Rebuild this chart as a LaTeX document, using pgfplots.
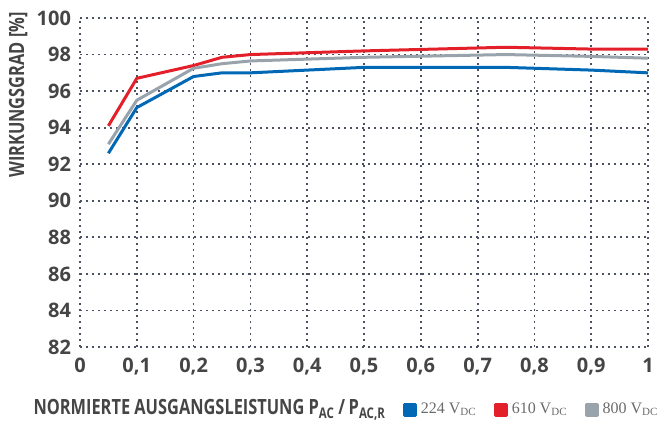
\documentclass[border=0pt]{standalone}
\usepackage{pgfplots}
\pgfplotsset{compat=1.18}
\usepackage{fontspec}
\setmainfont{Open Sans}
\newfontfamily\condfont[FakeStretch=0.78]{Open Sans}
\newfontfamily\seriffont{Liberation Serif}
\definecolor{cblue}{HTML}{0068B4}
\definecolor{cred}{HTML}{E3202A}
\definecolor{cgray}{HTML}{98A3AC}
\definecolor{ctext}{HTML}{454545}
\definecolor{cleg}{HTML}{6A6A6A}
\definecolor{cgrid}{rgb}{0.30,0.32,0.38}
\begin{document}
\begin{tikzpicture}
\begin{axis}[
  scale only axis,
  width=284pt, height=164.5pt,
  xmin=0, xmax=1, ymin=82, ymax=100,
  xtick={0,0.1,0.2,0.3,0.4,0.5,0.6,0.7,0.8,0.9,1},
  xticklabels={0,{0,1},{0,2},{0,3},{0,4},{0,5},{0,6},{0,7},{0,8},{0,9},1},
  ytick={82,84,86,88,90,92,94,96,98,100},
  /pgf/number format/assume math mode=true,
  ticklabel style={font=\fontsize{10}{12}\selectfont\bfseries, text=ctext},
  xticklabel style={yshift=-2pt},
  yticklabel style={xshift=-1pt},
  major tick length=0pt,
  axis line style={draw opacity=0},
  xmajorgrids=true, ymajorgrids=true,
  major grid style={draw=cgrid, line width=0.9pt, dash pattern=on 0.9pt off 2.1pt},
  ylabel={WIRKUNGSGRAD [\%]},
  ylabel style={at={(rel axis cs:-0.109,0.766)}, anchor=center, rotate=0, font=\condfont\fontsize{10.5}{12}\selectfont\bfseries, text=ctext},
  xlabel={NORMIERTE AUSGANGSLEISTUNG P\textsubscript{AC}\,/\,P\textsubscript{AC,R}},
  xlabel style={at={(rel axis cs:0.551,-0.191)}, anchor=east, font=\condfont\fontsize{10.5}{12}\selectfont\bfseries, text=ctext},
  legend columns=3,
  legend style={at={(rel axis cs:0.5687,-0.191)}, anchor=west, draw=none, fill=none, inner sep=0pt,
    font=\seriffont\fontsize{8}{10}\selectfont, text=cleg,
    nodes={inner xsep=1.75pt, inner ysep=1pt},
    /tikz/every even column/.append style={column sep=7pt}},
  legend image code/.code={\fill[#1] (0pt,-2.75pt) rectangle (5.5pt,2.75pt);},
  every axis plot/.append style={line width=1.5pt, line join=round},
  clip=false,
]
\addplot[cblue] coordinates {(0.05,92.6) (0.1,95.1) (0.2,96.8) (0.25,97.0) (0.3,97.0) (0.4,97.15) (0.5,97.3) (0.75,97.3) (0.9,97.15) (1.0,97.0)};
\addlegendentry{224 V\textsubscript{\fontsize{5.5}{6}\selectfont DC}}
\addplot[cred] coordinates {(0.05,94.1) (0.1,96.7) (0.2,97.4) (0.25,97.85) (0.3,98.0) (0.5,98.2) (0.75,98.4) (0.9,98.3) (1.0,98.3)};
\addlegendentry{610 V\textsubscript{\fontsize{5.5}{6}\selectfont DC}}
\addplot[cgray] coordinates {(0.05,93.1) (0.1,95.5) (0.2,97.25) (0.25,97.5) (0.3,97.65) (0.5,97.85) (0.75,98.0) (0.9,97.9) (1.0,97.8)};
\addlegendentry{800 V\textsubscript{\fontsize{5.5}{6}\selectfont DC}}
\end{axis}
\pgfresetboundingbox
\path (-40pt,-38.5pt) rectangle (289.5pt,173.5pt);
\end{tikzpicture}
\end{document}
